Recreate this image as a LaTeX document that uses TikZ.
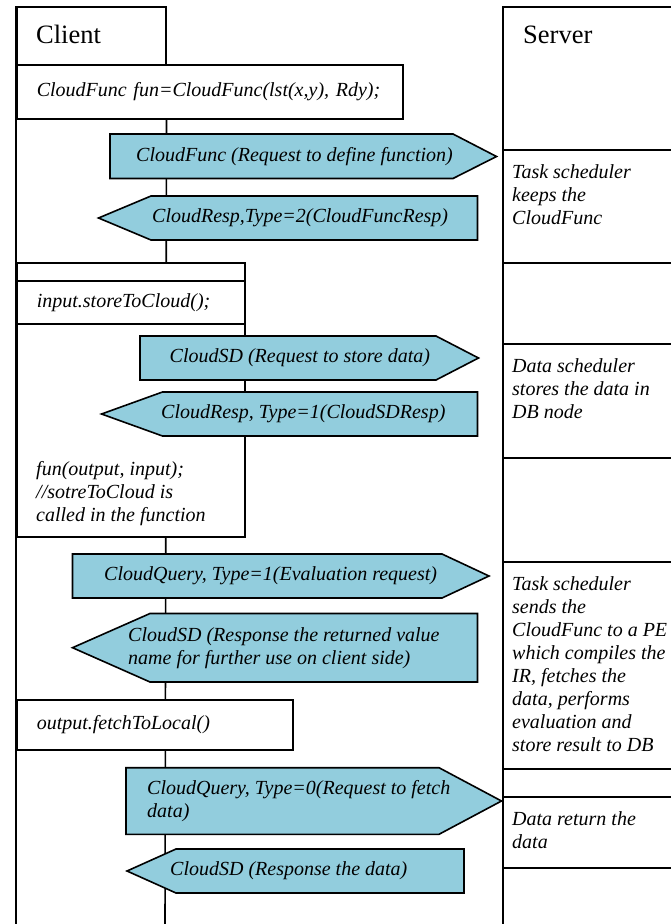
\documentclass[tikz,border=0pt]{standalone}
\usepackage{fontspec}
\setmainfont{Liberation Serif}
\usetikzlibrary{positioning}
\definecolor{msgblue}{RGB}{146,205,221}
\tikzstyle{line} = [draw=black, line width=1.6pt]
\tikzstyle{lane} = [rectangle, draw=black, line width=1.6pt, anchor=north west, inner sep=0pt, minimum width=175pt]
\tikzstyle{codebox} = [rectangle, draw=black, fill=white, line width=1.6pt, anchor=north west, inner xsep=20pt, inner ysep=0pt, align=left, font=\fontsize{20}{23}\selectfont\itshape]
\tikzstyle{title} = [anchor=base west, inner sep=0pt, font=\fontsize{26.5}{30}\selectfont]
\tikzstyle{note} = [anchor=north west, inner sep=0pt, align=left, font=\fontsize{20}{23}\selectfont\itshape]
\tikzstyle{msg} = [draw=black, fill=msgblue, line width=1.6pt]
\tikzstyle{msgtext} = [anchor=west, inner sep=0pt, align=left, font=\fontsize{20}{23}\selectfont\itshape]

\begin{document}
\begin{tikzpicture}[x=1pt, y=-1pt]
    \useasboundingbox (0,0) rectangle (671,924);
    \clip (0,0) rectangle (671,924);

    \node (clienthead) [lane, minimum width=149pt, minimum height=58pt] at (16,6) {};
    \node (clientname) [title] at ([xshift=20pt, yshift=-37pt]clienthead.north west) {Client};
    \coordinate (clientend) at (16,930);
    \coordinate (lifeend) at (165,930);
    \draw [line] (clienthead.north west) -- (clientend);
    \draw [line] (clienthead.south east) -- (lifeend);

    \node (serverhead) [lane, minimum height=143pt] at (502,6) {};
    \node (servername) [title] at ([xshift=21pt, yshift=-37pt]serverhead.north west) {Server};
    \node (keepfun) [lane, minimum height=113pt] at (502,149) {};
    \node (srvgapA) [lane, minimum height=81pt] at (502,262) {};
    \node (storedata) [lane, minimum height=114pt] at (502,343) {};
    \node (srvgapB) [lane, minimum height=104pt] at (502,457) {};
    \node (evaluate) [lane, minimum height=207pt] at (502,561) {};
    \node (srvgapC) [lane, minimum height=28pt] at (502,768) {};
    \node (returndata) [lane, minimum height=71pt] at (502,796) {};
    \node (srvgapD) [lane, minimum height=80pt] at (502,867) {};

    \node (keepfuntext) [note, below right=15pt and 10pt of keepfun.north west] {Task scheduler\\keeps the\\CloudFunc};
    \node (storedatatext) [note, below right=15pt and 10pt of storedata.north west] {Data scheduler\\stores the data in\\DB node};
    \node (evaluatetext) [note, below right=15pt and 10pt of evaluate.north west] {Task scheduler\\sends the\\CloudFunc to a PE\\which compiles the\\IR, fetches the\\data, performs\\evaluation and\\store result to DB};
    \node (returndatatext) [note, below right=15pt and 10pt of returndata.north west] {Data return the\\data};

    \node (definefun) [codebox, text width=346pt, minimum height=54pt] at (16,64) {CloudFunc fun=CloudFunc(lst(x,y), Rdy);};
    \node (storegap) [codebox, text width=188pt, minimum height=18pt] at (16,262) {};
    \node (store) [codebox, text width=188pt, minimum height=43pt] at (16,280) {input.storeToCloud();};
    \node (callfun) [codebox, text width=188pt, minimum height=213pt] at (16,323) {};
    \node (callfuntext) [note, above right=12pt and 20pt of callfun.south west] {fun(output, input);\\//sotreToCloud is\\called in the function};
    \node (fetch) [codebox, text width=236pt, minimum height=50pt] at (16,699) {output.fetchToLocal()};

    \filldraw [msg] (110,134) -- (453,134) -- (496.5,156.5) -- (453,178.5) -- (110,178.5) -- cycle;
    \node (definereq) [msgtext] at (136,156.5) {CloudFunc (Request to define function)};
    \filldraw [msg] (151,196) -- (477.5,196) -- (477.5,240) -- (151,240) -- (98.5,218) -- cycle;
    \node (defineresp) [msgtext] at (152,218) {CloudResp,Type=2(CloudFuncResp)};

    \filldraw [msg] (140,336) -- (436,336) -- (478.5,358) -- (436,380) -- (140,380) -- cycle;
    \node (storereq) [msgtext] at (169.5,358) {CloudSD (Request to store data)};
    \filldraw [msg] (162.5,392) -- (477.5,392) -- (477.5,436) -- (162.5,436) -- (101.5,414) -- cycle;
    \node (storeresp) [msgtext] at (161,414) {CloudResp, Type=1(CloudSDResp)};

    \filldraw [msg] (72.5,554) -- (442,554) -- (489,576) -- (442,598) -- (72.5,598) -- cycle;
    \node (evalreq) [msgtext] at (104,576) {CloudQuery, Type=1(Evaluation request)};
    \filldraw [msg] (150,613.5) -- (477.5,613.5) -- (477.5,682) -- (150,682) -- (72.5,647.7) -- cycle;
    \node (evalresp) [msgtext] at (128,648) {CloudSD (Response the returned value\\name for further use on client side)};

    \filldraw [msg] (126,767.7) -- (439,767.7) -- (501.5,801) -- (439,834.3) -- (126,834.3) -- cycle;
    \node (fetchreq) [msgtext] at (147,801) {CloudQuery, Type=0(Request to fetch\\data)};
    \filldraw [msg] (176,849) -- (464,849) -- (464,893) -- (176,893) -- (127,871) -- cycle;
    \node (fetchresp) [msgtext] at (170,871) {CloudSD (Response the data)};
\end{tikzpicture}
\end{document}
